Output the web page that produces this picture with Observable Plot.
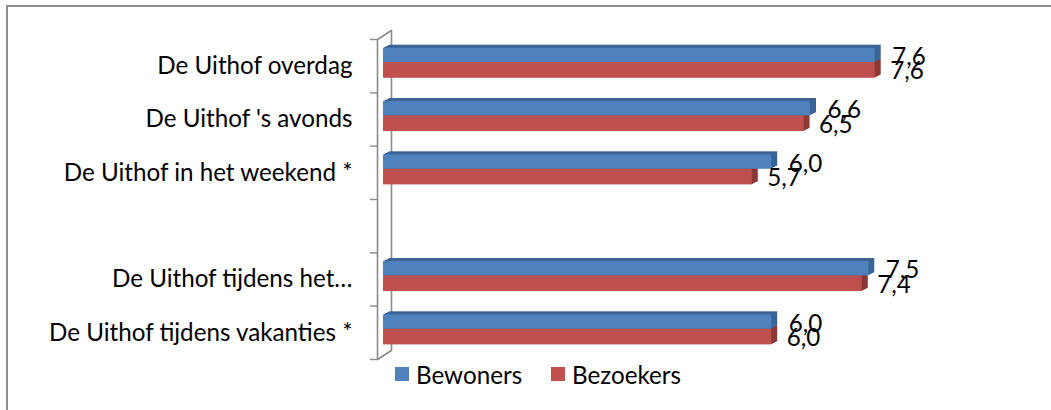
<!DOCTYPE html>
<html><head><meta charset="utf-8">
<script src="https://cdn.jsdelivr.net/npm/d3@7"></script>
<script src="https://cdn.jsdelivr.net/npm/@observablehq/plot@0.6"></script>
<style>
html,body{margin:0;padding:0;background:#fff;overflow:hidden;width:1051px;height:410px;}
#frame{position:absolute;left:6px;top:5px;width:1100px;height:460px;border-left:2px solid #8c8c8c;border-top:2px solid #8c8c8c;box-sizing:border-box;}
#chart{position:absolute;left:0;top:0;}
.leg{position:absolute;top:362px;height:24px;display:flex;align-items:center;font-family:Lato,sans-serif;color:#000;white-space:nowrap;}
.sw{width:14px;height:14px;margin-right:7px;flex:none;}
</style></head><body>
<div id="frame"></div>
<div id="chart"></div>
<div id="legend"></div>
<script>
// ---- data ----
const categories = ["De Uithof overdag", "De Uithof 's avonds", "De Uithof in het weekend *", "", "De Uithof tijdens het…", "De Uithof tijdens vakanties *"];
const bewoners = [7.6, 6.6, 6.0, null, 7.5, 6.0];
const bezoekers = [7.6, 6.5, 5.7, null, 7.4, 6.0];
const seriesNames = ["Bewoners", "Bezoekers"];
const seriesColors = ["#4f81bd", "#c0504d"];
const depthColors = ["#3b6495", "#8c3a37"];
const slotBoundaries = [0, 1, 2, 3, 4, 5, 6];

// ---- font size fitted to reference label width ----
const ctx = document.createElement("canvas").getContext("2d");
ctx.font = "100px Lato";
const fs = Math.round(100 * 196 / ctx.measureText("De Uithof overdag").width * 10) / 10;

const fmt = v => d3.format(".1f")(v).replace(".", ",");
const seriesValues = [bewoners, bezoekers];
const rows = [];
seriesNames.forEach((s, si) => seriesValues[si].forEach((v, i) => { if (v != null) rows.push({series: s, slot: i, value: v}); }));
const catRows = categories.map((c, i) => ({label: c, slot: i})).filter(d => d.label !== "");

const insets = {Bewoners: {top: 8.7, bottom: 30.3, dx: 17, dy: -9}, Bezoekers: {top: 23, bottom: 14.6, dx: 15, dy: 5.5}};
const axisColor = "#8a8a8a";

function barMarks(si) {
  const s = seriesNames[si];
  const data = rows.filter(d => d.series === s);
  const o = insets[s];
  const base = {x1: () => 0, x2: "value", y1: "slot", y2: d => d.slot + 1, insetTop: o.top, insetBottom: o.bottom};
  const layers = d3.range(6, 0, -1).map(k => Plot.rect(data, {...base, fill: depthColors[si], dx: k, dy: -k / 2}));
  return [...layers, Plot.rect(data, {...base, fill: seriesColors[si]})];
}
function labelMarks(si) {
  const s = seriesNames[si];
  const o = insets[s];
  return Plot.text(rows.filter(d => d.series === s), {
    x: "value", y: d => d.slot + 0.5, text: d => fmt(d.value),
    dx: o.dx, dy: o.dy, textAnchor: "start", fill: "#000", fontSize: fs, fontFamily: "Lato"
  });
}

const chart = Plot.plot({
  width: 1051, height: 362,
  marginLeft: 383, marginRight: 21, marginTop: 39, marginBottom: 3,
  style: {fontFamily: "Lato", background: "transparent", overflow: "visible"},
  x: {domain: [0, 10], axis: null},
  y: {domain: [0, 6], reverse: true, label: null},
  marks: [
    // back wall line
    Plot.ruleX([0], {dx: 8, dy: -9, stroke: axisColor, strokeWidth: 1.6}),
    // front axis line
    Plot.ruleX([0], {dx: -6, stroke: axisColor, strokeWidth: 1.6}),
    // perspective connectors at top and bottom
    Plot.vector([0, 6], {frameAnchor: "left", y: d => d, dx: -6, length: 16.5, rotate: 57, anchor: "start", r: 0, stroke: axisColor, strokeWidth: 1.6}),
    // tick marks at slot boundaries
    Plot.axisY(slotBoundaries, {tickSize: 7, tickFormat: () => "", label: null, dx: -6, stroke: axisColor, strokeWidth: 1.4}),
    // category labels
    Plot.text(catRows, {frameAnchor: "left", y: d => d.slot + 0.5, text: "label", dx: -31, textAnchor: "end", fill: "#000", fontSize: fs, fontFamily: "Lato"}),
    ...barMarks(1),
    ...barMarks(0),
    labelMarks(0),
    labelMarks(1)
  ]
});
document.getElementById("chart").appendChild(chart);

// ---- legend ----
const legendLeft = [395, 551];
const leg = document.getElementById("legend");
seriesNames.forEach((s, i) => {
  const item = document.createElement("div");
  item.className = "leg";
  item.style.left = legendLeft[i] + "px";
  item.style.fontSize = fs + "px";
  item.innerHTML = `<span class="sw" style="background:${seriesColors[i]}"></span><span>${s}</span>`;
  leg.appendChild(item);
});
</script>
</body></html>
